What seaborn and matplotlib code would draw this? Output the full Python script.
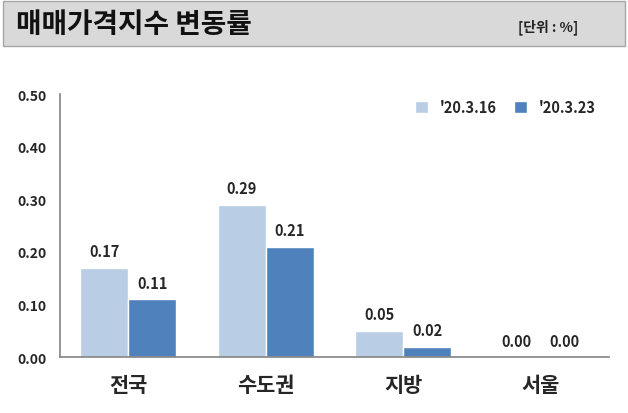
import matplotlib
matplotlib.use("Agg")
import matplotlib.pyplot as plt
import seaborn as sns
import pandas as pd
from matplotlib.patches import Rectangle

categories = ["전국", "수도권", "지방", "서울"]
series = ["'20.3.16", "'20.3.23"]
v1 = [0.17, 0.29, 0.05, 0.00]
v2 = [0.11, 0.21, 0.02, 0.00]

df = pd.DataFrame({"cat": categories * 2, "s": [series[0]] * 4 + [series[1]] * 4, "v": v1 + v2})

sns.set_theme(style="white")
plt.rcParams['font.family'] = ['Noto Sans CJK KR', 'DejaVu Sans']

fig = plt.figure(figsize=(6.28, 4.14), dpi=100)
hdr = fig.add_axes([0, 0.88, 1, 0.12])
hdr.set_xlim(0, 1); hdr.set_ylim(0, 1); hdr.axis("off")
hdr.add_patch(Rectangle((0.005, 0.05), 0.99, 0.9, facecolor="#d9d9d9", edgecolor="#a6a6a6"))
hdr.text(0.025, 0.5, "매매가격지수 변동률", fontsize=20, fontweight="bold", va="center", color="#111111")
hdr.text(0.92, 0.45, "[단위 : %]", fontsize=10, fontweight="bold", va="center", ha="right", color="#222222")

ax = fig.add_axes([0.095, 0.135, 0.875, 0.635])
sns.barplot(data=df, x="cat", y="v", hue="s", palette=["#b9cde5", "#4f81bd"], width=0.7,
            saturation=1, ax=ax)
ax.set_ylim(0, 0.5)
ax.set_yticks([0, 0.1, 0.2, 0.3, 0.4, 0.5])
ax.set_yticklabels([f"{t:.2f}" for t in ax.get_yticks()], fontsize=10, fontweight="bold")
ax.set_xticks(range(len(categories)))
ax.set_xticklabels(categories, fontsize=15, fontweight="bold")
ax.tick_params(axis="x", pad=6)
ax.set_xlabel(""); ax.set_ylabel("")
for c in ax.containers:
    ax.bar_label(c, labels=[f"{x:.2f}" for x in c.datavalues], padding=6, fontsize=10.5, fontweight="bold")
for s in ["top", "right"]:
    ax.spines[s].set_visible(False)
ax.spines["left"].set_color("#888888")
ax.spines["bottom"].set_color("#888888")
ax.tick_params(axis="y", left=False)
leg = ax.legend(loc="upper right", bbox_to_anchor=(1.0, 1.03), ncol=2, frameon=False,
                fontsize=10.5, handlelength=0.9, handleheight=0.9, columnspacing=1.2)
for t in leg.get_texts():
    t.set_fontweight("bold")
fig.savefig("out.png", dpi=100)
